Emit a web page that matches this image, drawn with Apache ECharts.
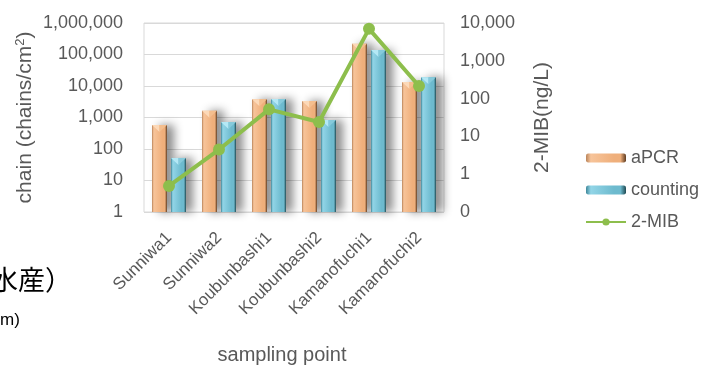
<!DOCTYPE html>
<html>
<head>
<meta charset="utf-8">
<script src="https://cdn.jsdelivr.net/npm/echarts@6/dist/echarts.min.js"></script>
<style>
html,body{margin:0;padding:0;background:#fff;}
#chart{width:715px;height:365px;}
</style>
</head>
<body>
<div id="chart"></div>
<script>
var categories = ['Sunniwa1','Sunniwa2','Koubunbashi1','Koubunbashi2','Kamanofuchi1','Kamanofuchi2'];
var aPCR = [580, 1650, 3800, 3350, 220000, 13500];
var counting = [52, 720, 3900, 830, 138000, 19000];
var mib = [0.49, 4.5, 52, 24, 7000, 216];

var chart = echarts.init(document.getElementById('chart'));
var gray = '#595959';
var font = 'Liberation Sans, Arial, sans-serif';
function fmt(v){ if (v < 1) return '0'; return Math.round(v).toLocaleString('en-US'); }
function grad(c0,c1,c2,c3){
  return new echarts.graphic.LinearGradient(0,0,1,0,[
    {offset:0,color:c0},{offset:0.12,color:c1},{offset:0.7,color:c2},{offset:0.86,color:c2},{offset:1,color:c3}]);
}
var orange = grad('#B9845A','#F7C49A','#EFAF7B','#5E3C22');
var blue = grad('#3F8799','#92D5E7','#6DBACE','#1F4951');
var BW = 15, GAP = 4;
function capSeries(name, values, offset, c1, c2){
  return {
    name:name, type:'custom', z:3, silent:true,
    data: values.map(function(v,i){ return [i, v]; }),
    renderItem:function(params, api){
      var p = api.coord([api.value(0), api.value(1)]);
      var cx = p[0] + offset, y = p[1], h = BW/2;
      return {type:'group', children:[
        {type:'polygon', shape:{points:[[cx-h,y],[cx,y],[cx,y+7]]}, style:{fill:c1}},
        {type:'polygon', shape:{points:[[cx,y],[cx+h,y],[cx,y+7]]}, style:{fill:c2}}
      ]};
    }
  };
}

chart.setOption({
  animation:false,
  textStyle:{fontFamily:font},
  grid:{left:144,right:271,top:23,bottom:153,show:true,borderColor:'#D9D9D9',borderWidth:1,outerBoundsMode:'none',containLabel:false},
  legend:{
    orient:'vertical', left:580, top:144, itemWidth:40, itemHeight:9, itemGap:14,
    textStyle:{fontSize:18,color:gray,fontFamily:font},
    data:['aPCR','counting','2-MIB']
  },
  xAxis:{
    type:'category', data:categories,
    axisLine:{show:false}, axisTick:{show:false},
    axisLabel:{rotate:45, interval:0, fontSize:17, color:gray, margin:23},
    name:'sampling point', nameLocation:'middle', nameGap:133,
    nameTextStyle:{fontSize:20,color:gray,letterSpacing:0.5,padding:[0,24,0,0]}
  },
  yAxis:[{
    type:'log', logBase:10, min:1, max:1000000,
    axisLine:{show:false}, axisTick:{show:false},
    axisLabel:{formatter:fmt, fontSize:18, color:gray, margin:21},
    splitLine:{lineStyle:{color:'#D9D9D9'}},
    name:'{a|chain (chains/cm}{s|2}{a|)}', nameLocation:'middle', nameRotate:90, nameGap:108,
    nameTextStyle:{rich:{a:{fontSize:21,color:gray,fontFamily:font},s:{fontSize:13,color:gray,verticalAlign:'top',padding:[0,0,9,0],fontFamily:font}}}
  },{
    type:'log', logBase:10, min:0.1, max:10000,
    axisLine:{show:false}, axisTick:{show:false},
    axisLabel:{formatter:fmt, fontSize:18, color:gray, margin:16},
    splitLine:{show:false},
    name:'2-MIB(ng/L)', nameLocation:'middle', nameRotate:90, nameGap:88,
    nameTextStyle:{fontSize:21,color:gray}
  }],
  series:[{
    name:'aPCR', type:'bar', data:aPCR, barWidth:BW, barGap:(GAP/BW*100)+'%',
    itemStyle:{color:orange, shadowColor:'rgba(0,0,0,0.45)', shadowBlur:10, shadowOffsetX:7, shadowOffsetY:0}
  },{
    name:'counting', type:'bar', data:counting, barWidth:BW,
    itemStyle:{color:blue, shadowColor:'rgba(0,0,0,0.45)', shadowBlur:10, shadowOffsetX:7, shadowOffsetY:0}
  },
  capSeries('aPCRcap', aPCR, -(BW+GAP)/2, '#FCD9B8', '#F4BE8E'),
  capSeries('countingcap', counting, (BW+GAP)/2, '#B4E8F5', '#86CADB'),
  {
    name:'2-MIB', type:'line', yAxisIndex:1, data:mib, z:5,
    symbol:'circle', symbolSize:12,
    lineStyle:{color:'#8DBE4C', width:4},
    itemStyle:{color:'#8DBE4C'}
  }],
  graphic:[
    {type:'text', left:-9, top:266, style:{text:'水産）', fontSize:27, fill:'#000', fontFamily:'Noto Sans CJK JP'}},
    {type:'text', left:0, top:312, style:{text:'m)', fontSize:17, fill:'#000', fontFamily:font}}
  ]
});
</script>
</body>
</html>
